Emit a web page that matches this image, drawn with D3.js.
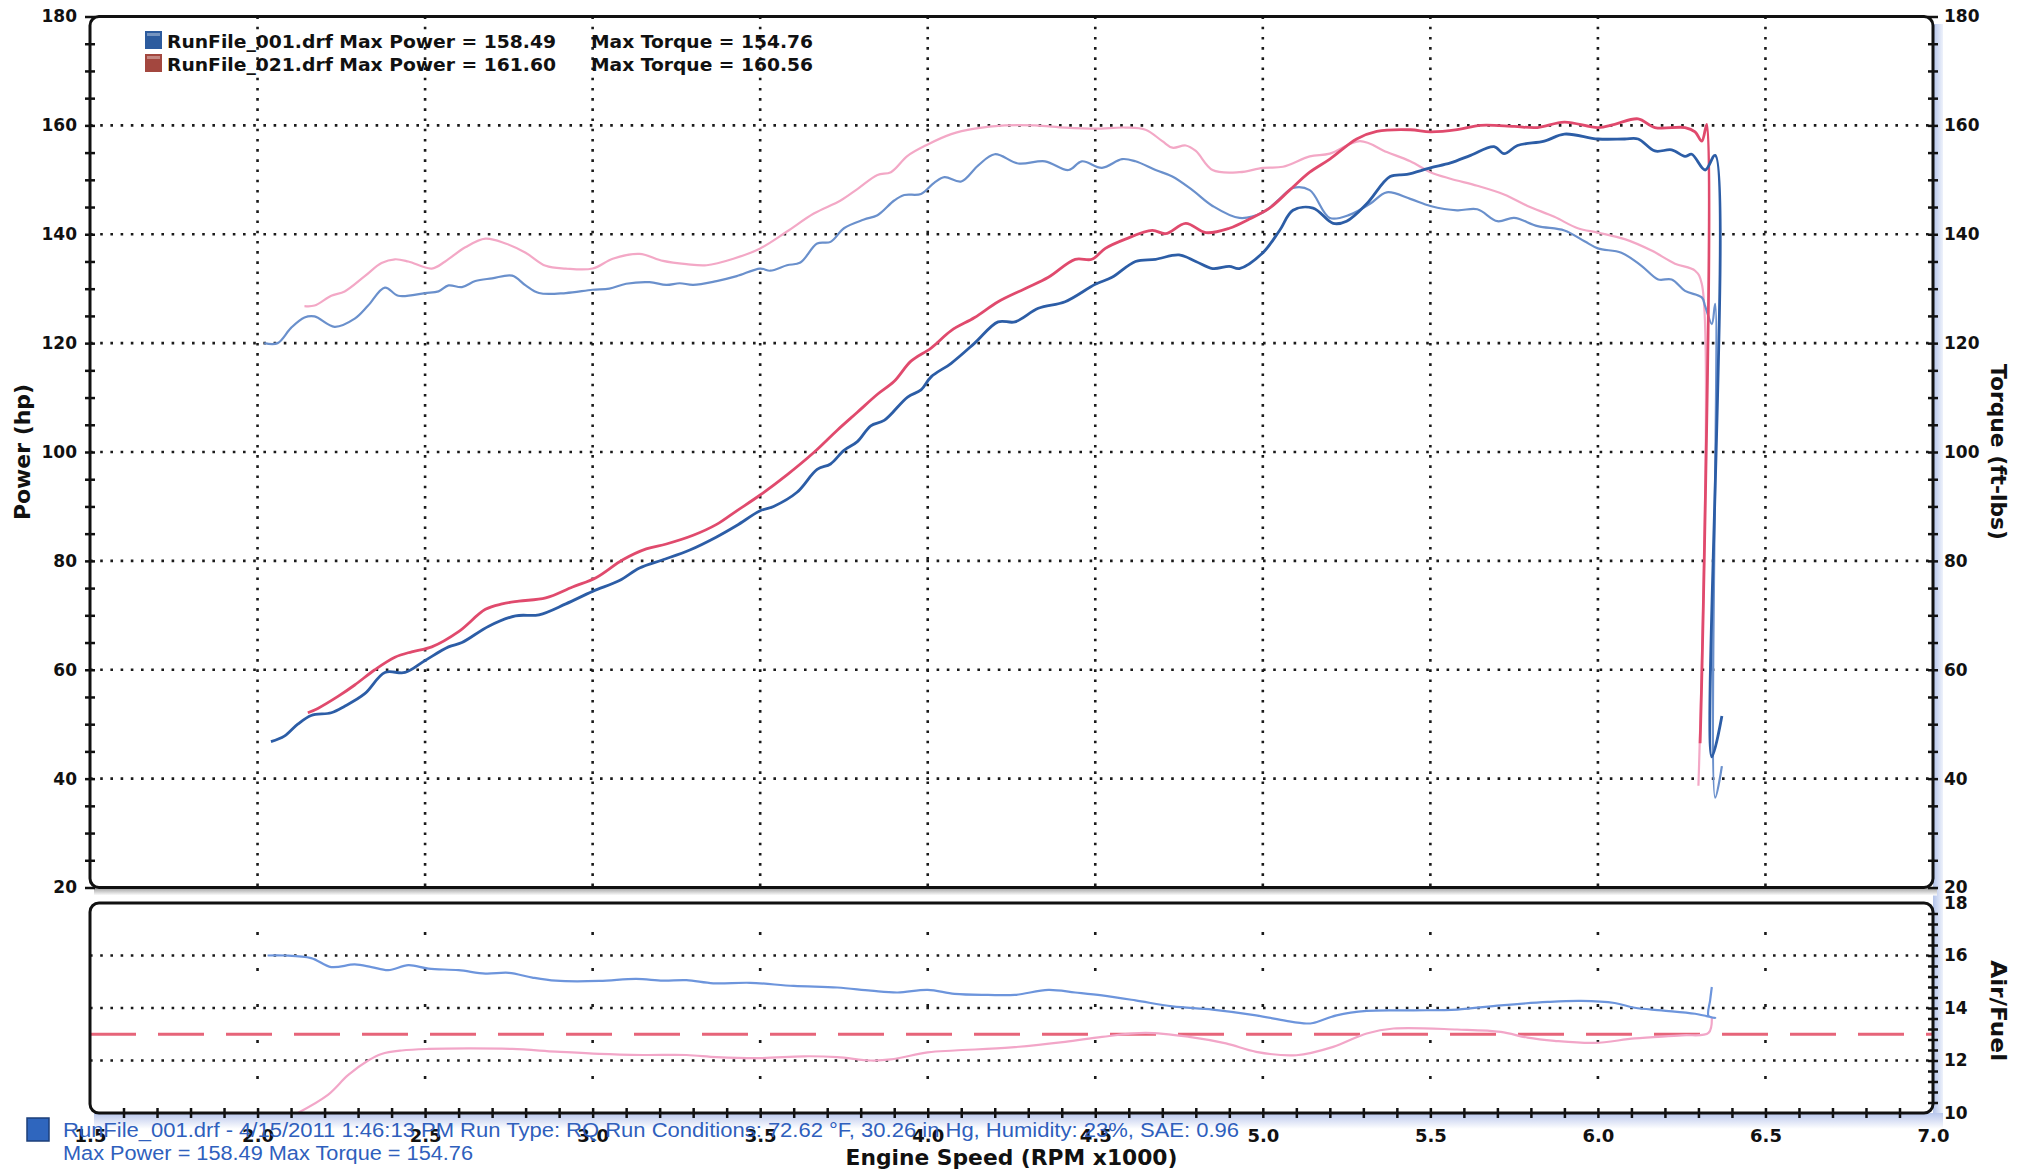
<!DOCTYPE html>
<html>
<head>
<meta charset="utf-8">
<script src="https://cdn.jsdelivr.net/npm/d3@7"></script>
<style>
  body { margin: 0; background: #fff; }
  svg { display: block; }
  .axis text { font-family: "DejaVu Sans", Verdana, sans-serif; font-weight: bold; font-size: 17px; fill: #111; }
  .axis .domain { display: none; }
  .axis line { stroke: #111; stroke-width: 2.5; }
  .title { font-family: "DejaVu Sans", Verdana, sans-serif; font-weight: bold; fill: #111; }
  .info { font-family: "Liberation Sans", Arial, sans-serif; font-size: 20px; fill: #2f5fbd; }
</style>
</head>
<body>
<svg id="chart" width="2028" height="1172"></svg>
<script>
// ---- data (rpm x1000, value) ----
const power001 = [
  [2.04,46.8],[2.08,47.8],[2.12,50.0],[2.16,51.6],[2.22,52.1],[2.26,53.3],[2.32,55.6],[2.38,59.5],[2.44,59.5],
  [2.50,61.7],[2.57,64.2],[2.61,65.0],[2.69,68.0],[2.77,69.9],[2.84,70.1],[2.92,72.1],[3.00,74.4],[3.08,76.4],
  [3.14,78.7],[3.21,80.2],[3.29,82.0],[3.37,84.4],[3.43,86.5],[3.50,89.2],[3.54,90.0],[3.61,92.6],[3.67,96.8],
  [3.71,97.8],[3.75,100.3],[3.79,101.9],[3.83,104.8],[3.87,105.8],[3.94,110.1],[3.98,111.4],[4.01,113.8],
  [4.07,116.3],[4.14,120.0],[4.21,123.9],[4.26,123.9],[4.33,126.4],[4.41,127.6],[4.50,130.8],[4.55,132.1],
  [4.62,135.0],[4.68,135.4],[4.75,136.2],[4.80,135.0],[4.85,133.7],[4.90,134.1],[4.93,133.7],[5.00,136.6],
  [5.05,140.7],[5.09,144.4],[5.15,144.8],[5.21,142.0],[5.25,142.4],[5.31,145.6],[5.38,150.6],[5.43,151.0],
  [5.50,152.2],[5.56,153.1],[5.62,154.5],[5.69,156.1],[5.72,154.8],[5.76,156.3],[5.84,157.1],[5.90,158.4],
  [6.00,157.5],[6.08,157.5],[6.12,157.5],[6.17,155.3],[6.22,155.5],[6.26,154.3],[6.28,154.7],[6.32,151.8],
  [6.35,154.5],[6.34,44.0],[6.37,51.5]
];
const torque001 = [
  [2.02,120.0],[2.06,120.0],[2.10,122.8],[2.14,124.7],[2.17,124.9],[2.23,123.0],[2.29,124.5],[2.33,126.9],
  [2.38,130.2],[2.42,128.7],[2.50,129.2],[2.54,129.5],[2.57,130.6],[2.61,130.3],[2.65,131.4],[2.70,131.9],
  [2.76,132.4],[2.80,130.6],[2.84,129.2],[2.92,129.2],[3.00,129.8],[3.05,130.0],[3.10,130.9],[3.17,131.2],
  [3.22,130.7],[3.26,131.0],[3.30,130.7],[3.37,131.4],[3.43,132.3],[3.50,133.7],[3.53,133.3],[3.58,134.3],
  [3.62,134.8],[3.67,138.3],[3.71,138.6],[3.75,141.1],[3.81,142.7],[3.85,143.5],[3.90,146.2],[3.93,147.2],
  [3.98,147.4],[4.02,149.5],[4.05,150.5],[4.10,149.7],[4.15,152.6],[4.20,154.7],[4.27,153.0],[4.35,153.4],
  [4.42,151.8],[4.46,153.4],[4.52,152.2],[4.58,153.8],[4.62,153.4],[4.68,151.8],[4.73,150.6],[4.79,148.1],
  [4.85,145.2],[4.93,143.0],[5.00,144.0],[5.05,146.5],[5.09,148.5],[5.14,148.1],[5.20,143.0],[5.26,143.6],
  [5.32,145.6],[5.37,147.7],[5.44,146.5],[5.50,145.2],[5.58,144.4],[5.64,144.6],[5.70,142.4],[5.75,143.0],
  [5.82,141.5],[5.90,140.7],[5.96,138.7],[6.00,137.4],[6.07,136.6],[6.13,134.2],[6.18,131.7],[6.22,131.7],
  [6.26,129.6],[6.31,128.4],[6.32,126.8],[6.34,123.5],[6.35,127.2],[6.35,36.5],[6.37,42.3]
];
const power021 = [
  [2.15,52.1],[2.18,52.9],[2.24,55.1],[2.29,57.2],[2.35,60.0],[2.41,62.3],[2.46,63.3],[2.52,64.2],[2.60,67.0],
  [2.68,71.1],[2.73,72.1],[2.78,72.6],[2.86,73.2],[2.94,75.2],[3.01,76.9],[3.09,80.2],[3.16,82.2],[3.22,83.1],
  [3.30,84.7],[3.37,86.7],[3.43,89.2],[3.50,92.1],[3.58,95.8],[3.66,99.9],[3.73,104.0],[3.79,107.3],
  [3.85,110.6],[3.90,113.0],[3.95,116.7],[4.01,119.1],[4.07,122.3],[4.14,124.7],[4.21,127.6],[4.29,130.0],
  [4.36,132.1],[4.44,135.4],[4.49,135.4],[4.53,137.4],[4.59,139.1],[4.67,140.7],[4.71,140.1],[4.77,142.0],
  [4.83,140.3],[4.90,141.1],[4.96,142.8],[5.02,144.8],[5.08,148.1],[5.14,151.4],[5.20,153.8],[5.28,157.5],
  [5.34,158.9],[5.44,159.2],[5.50,158.8],[5.58,159.2],[5.65,160.0],[5.75,159.8],[5.82,159.6],[5.90,160.6],
  [6.00,159.6],[6.05,160.2],[6.12,161.2],[6.17,159.6],[6.26,159.6],[6.29,158.8],[6.31,157.1],[6.325,160.2],
  [6.305,46.5]
];
const torque021 = [
  [2.14,126.8],[2.17,126.9],[2.22,128.7],[2.26,129.5],[2.32,132.3],[2.37,134.7],[2.41,135.4],[2.45,135.0],
  [2.52,133.7],[2.56,135.0],[2.62,137.6],[2.68,139.2],[2.74,138.3],[2.80,136.6],[2.86,134.2],[2.92,133.7],
  [3.00,133.7],[3.06,135.5],[3.14,136.4],[3.21,135.1],[3.28,134.5],[3.34,134.3],[3.42,135.5],[3.50,137.4],
  [3.58,140.5],[3.66,143.8],[3.74,146.2],[3.79,148.3],[3.85,150.9],[3.89,151.4],[3.94,154.4],[4.00,156.5],
  [4.07,158.4],[4.14,159.4],[4.23,160.0],[4.32,160.0],[4.41,159.6],[4.50,159.4],[4.59,159.6],[4.65,159.2],
  [4.70,157.1],[4.73,155.9],[4.77,156.3],[4.80,155.3],[4.85,151.8],[4.93,151.4],[5.00,152.2],[5.06,152.4],
  [5.14,154.3],[5.20,154.8],[5.29,157.1],[5.37,155.1],[5.44,153.4],[5.50,151.4],[5.56,150.2],[5.64,148.9],
  [5.72,147.3],[5.79,145.2],[5.87,143.2],[5.94,141.1],[6.00,140.3],[6.08,139.1],[6.16,137.0],[6.23,134.6],
  [6.29,133.3],[6.31,130.9],[6.30,38.7]
];
const afr001 = [
  [2.03,16.0],[2.08,16.0],[2.16,15.9],[2.22,15.56],[2.29,15.66],[2.34,15.56],[2.39,15.44],[2.45,15.63],
  [2.51,15.5],[2.60,15.44],[2.68,15.31],[2.75,15.34],[2.82,15.16],[2.89,15.04],[3.02,15.03],[3.13,15.11],
  [3.21,15.04],[3.28,15.06],[3.36,14.94],[3.47,14.96],[3.60,14.84],[3.73,14.78],[3.83,14.66],[3.91,14.59],
  [4.00,14.69],[4.08,14.54],[4.18,14.5],[4.26,14.5],[4.36,14.69],[4.44,14.59],[4.52,14.48],[4.62,14.29],
  [4.73,14.06],[4.85,13.94],[4.98,13.72],[5.07,13.51],[5.13,13.41],[5.15,13.43],[5.22,13.72],[5.31,13.89],
  [5.45,13.91],[5.58,13.94],[5.71,14.1],[5.85,14.23],[5.95,14.27],[6.05,14.19],[6.11,14.01],[6.19,13.91],
  [6.29,13.78],[6.35,13.62],[6.33,13.7],[6.335,14.3],[6.34,14.8]
];
const afr021 = [
  [2.12,10.0],[2.21,10.69],[2.27,11.44],[2.33,12.0],[2.37,12.25],[2.43,12.38],[2.51,12.44],[2.63,12.46],
  [2.76,12.44],[2.89,12.34],[3.02,12.25],[3.15,12.21],[3.28,12.21],[3.37,12.13],[3.50,12.09],[3.63,12.16],
  [3.73,12.13],[3.83,12.0],[3.89,12.04],[4.00,12.31],[4.08,12.38],[4.25,12.5],[4.41,12.71],[4.52,12.9],
  [4.65,13.05],[4.78,12.9],[4.89,12.65],[4.98,12.33],[5.10,12.2],[5.21,12.52],[5.31,13.03],[5.39,13.22],
  [5.58,13.18],[5.71,13.09],[5.79,12.87],[5.87,12.75],[5.99,12.67],[6.11,12.84],[6.25,12.96],[6.33,13.05],
  [6.34,13.66]
];
const afrTarget = 13.0;

const rpmTicks = [1.5, 2.0, 2.5, 3.0, 3.5, 4.0, 4.5, 5.0, 5.5, 6.0, 6.5, 7.0];
const rpmGrid = [2.0, 2.5, 3.0, 3.5, 4.0, 4.5, 5.0, 5.5, 6.0, 6.5];
const powerTicks = [20, 40, 60, 80, 100, 120, 140, 160, 180];
const powerGrid = [40, 60, 80, 100, 120, 140, 160];
const afrTicks = [10, 12, 14, 16, 18];
const afrGrid = [12, 14, 16];

const legendRows = [
  { name: 'RunFile_001.drf', power: '158.49', torque: '154.76', color: '#2c5b9e' },
  { name: 'RunFile_021.drf', power: '161.60', torque: '160.56', color: '#a3473f' }
];
const infoLines = [
  'RunFile_001.drf - 4/15/2011 1:46:13 PM  Run Type: RQ  Run Conditions: 72.62 °F, 30.26 in Hg,  Humidity: 23%, SAE: 0.96',
  'Max Power = 158.49  Max Torque = 154.76'
];

// ---- layout ----
const L = 90, R = 1933;
const x = d3.scaleLinear().domain([1.5, 7.0]).range([L, R]);
const yPow = d3.scaleLinear().domain([20, 180]).range([887.5, 16.5]);
const yTrq = yPow.copy();
const yAf = d3.scaleLinear().domain([10, 18]).range([1113, 903]);

const svg = d3.select('#chart');
const defs = svg.append('defs');

const gRight = defs.append('linearGradient').attr('id', 'shadeR').attr('x1', 0).attr('x2', 1).attr('y1', 0).attr('y2', 0);
gRight.append('stop').attr('offset', '0%').attr('stop-color', '#b3c3ea');
gRight.append('stop').attr('offset', '100%').attr('stop-color', '#eef2fb');
const gBot = defs.append('linearGradient').attr('id', 'shadeB').attr('x1', 0).attr('x2', 0).attr('y1', 0).attr('y2', 1);
gBot.append('stop').attr('offset', '0%').attr('stop-color', '#b8c6ec');
gBot.append('stop').attr('offset', '100%').attr('stop-color', '#ffffff');
const gGray = defs.append('linearGradient').attr('id', 'shadeG').attr('x1', 0).attr('x2', 0).attr('y1', 0).attr('y2', 1);
gGray.append('stop').attr('offset', '0%').attr('stop-color', '#9a9a9a');
gGray.append('stop').attr('offset', '100%').attr('stop-color', '#ffffff');

// soft scan shading around the frames
svg.append('rect').attr('x', R).attr('y', 24).attr('width', 10).attr('height', 1100).attr('fill', 'url(#shadeR)');
svg.append('rect').attr('x', L + 4).attr('y', yAf(10)).attr('width', R - L + 6).attr('height', 16).attr('fill', 'url(#shadeB)');
svg.append('rect').attr('x', L + 4).attr('y', yPow(20)).attr('width', R - L).attr('height', 8).attr('fill', 'url(#shadeG)');

// ---- grid ----
const grid = svg.append('g').attr('stroke', '#1a1a1a').attr('stroke-width', 2.6).attr('stroke-dasharray', '2.6,7.6');
grid.selectAll('line.hp').data(powerGrid).join('line')
  .attr('x1', L).attr('x2', R).attr('y1', d => yPow(d)).attr('y2', d => yPow(d));
grid.selectAll('line.vp').data(rpmGrid).join('line').attr('class', 'vp')
  .attr('x1', d => x(d)).attr('x2', d => x(d)).attr('y1', yPow(180)).attr('y2', yPow(20));
grid.selectAll('line.ha').data(afrGrid).join('line').attr('class', 'ha')
  .attr('x1', L).attr('x2', R).attr('y1', d => yAf(d)).attr('y2', d => yAf(d));
const dotGap = yAf(11.3) - yAf(12.67);
svg.append('g').attr('stroke', '#1a1a1a').attr('stroke-width', 2.6)
  .attr('stroke-dasharray', `3,${dotGap - 3}`)
  .selectAll('line').data(rpmGrid).join('line')
  .attr('x1', d => x(d)).attr('x2', d => x(d)).attr('y1', yAf(11.3)).attr('y2', yAf(17.6));

// target AFR
svg.append('line')
  .attr('x1', L).attr('x2', R).attr('y1', yAf(afrTarget)).attr('y2', yAf(afrTarget))
  .attr('stroke', '#e66479').attr('stroke-width', 3.2).attr('stroke-dasharray', '46,22');

// ---- curves ----
const lineTop = d3.line().x(d => x(d[0])).y(d => yPow(d[1])).curve(d3.curveCatmullRom.alpha(0.5));
const lineAf = d3.line().x(d => x(d[0])).y(d => yAf(d[1])).curve(d3.curveCatmullRom.alpha(0.5));
const curves = [
  { data: torque021, gen: lineTop, color: '#f3a8c6', w: 2.2 },
  { data: torque001, gen: lineTop, color: '#6a90cc', w: 2.2 },
  { data: power021, gen: lineTop, color: '#e04a6d', w: 2.8 },
  { data: power001, gen: lineTop, color: '#2c5da6', w: 2.8 },
  { data: afr021, gen: lineAf, color: '#f2a6c8', w: 2.2 },
  { data: afr001, gen: lineAf, color: '#6d95dc', w: 2.2 }
];
svg.append('g').selectAll('path').data(curves).join('path')
  .attr('d', d => d.gen(d.data))
  .attr('fill', 'none')
  .attr('stroke', d => d.color)
  .attr('stroke-width', d => d.w)
  .attr('stroke-linejoin', 'round');

// ---- frames ----
svg.append('rect').attr('x', L).attr('y', yPow(180)).attr('width', R - L).attr('height', yPow(20) - yPow(180))
  .attr('rx', 9).attr('fill', 'none').attr('stroke', '#111').attr('stroke-width', 3);
svg.append('rect').attr('x', L).attr('y', yAf(18)).attr('width', R - L).attr('height', yAf(10) - yAf(18))
  .attr('rx', 9).attr('fill', 'none').attr('stroke', '#111').attr('stroke-width', 3);

// ---- axes ----
function crossTicks(sel, vertical) {
  sel.selectAll('.tick line').attr(vertical ? 'y1' : 'x1', -5).attr(vertical ? 'y2' : 'x2', 5);
}
svg.append('g').attr('class', 'axis').attr('transform', `translate(${L},0)`)
  .call(d3.axisLeft(yPow).tickValues(d3.range(20, 181, 5)).tickFormat('').tickSizeOuter(0))
  .call(crossTicks, false);
svg.append('g').attr('class', 'axis').attr('transform', `translate(${L},0)`)
  .call(d3.axisLeft(yPow).tickValues(powerTicks).tickSize(0).tickPadding(13))
  .call(g => g.selectAll('.tick line').remove());
svg.append('g').attr('class', 'axis').attr('transform', `translate(${R},0)`)
  .call(d3.axisRight(yTrq).tickValues(d3.range(20, 181, 5)).tickFormat('').tickSizeOuter(0))
  .call(crossTicks, false);
svg.append('g').attr('class', 'axis').attr('transform', `translate(${R},0)`)
  .call(d3.axisRight(yTrq).tickValues(powerTicks).tickSize(0).tickPadding(11))
  .call(g => g.selectAll('.tick line').remove());
svg.append('g').attr('class', 'axis').attr('transform', `translate(${R},0)`)
  .call(d3.axisRight(yAf).tickValues(d3.range(10.4, 17.9, 0.4)).tickFormat('').tickSizeOuter(0))
  .call(crossTicks, false);
svg.append('g').attr('class', 'axis').attr('transform', `translate(${R},0)`)
  .call(d3.axisRight(yAf).tickValues(afrTicks).tickSize(0).tickPadding(11))
  .call(g => g.selectAll('.tick line').remove());
svg.append('g').attr('class', 'axis').attr('transform', `translate(0,${yAf(10)})`)
  .call(d3.axisBottom(x).tickValues(d3.range(16, 70).map(d => d / 10)).tickFormat('').tickSizeOuter(0))
  .call(crossTicks, true);
svg.append('g').attr('class', 'axis').attr('transform', `translate(0,${yAf(10)})`)
  .call(d3.axisBottom(x).tickValues(rpmTicks).tickFormat(d3.format('.1f')).tickSize(0).tickPadding(16))
  .call(g => g.selectAll('.tick line').remove())
  .call(g => g.selectAll('text').style('font-size', '18px'));

// axis titles
svg.append('text').attr('class', 'title').attr('font-size', 21)
  .attr('transform', `translate(30,${yPow(100)}) rotate(-90)`)
  .attr('text-anchor', 'middle').attr('textLength', 136).attr('lengthAdjust', 'spacingAndGlyphs')
  .text('Power (hp)');
svg.append('text').attr('class', 'title').attr('font-size', 21)
  .attr('transform', `translate(1991,${yTrq(100)}) rotate(90)`)
  .attr('text-anchor', 'middle').attr('textLength', 176).attr('lengthAdjust', 'spacingAndGlyphs')
  .text('Torque (ft-lbs)');
svg.append('text').attr('class', 'title').attr('font-size', 21)
  .attr('transform', `translate(1991,${yAf(13.9)}) rotate(90)`)
  .attr('text-anchor', 'middle').attr('textLength', 101).attr('lengthAdjust', 'spacingAndGlyphs')
  .text('Air/Fuel');
svg.append('text').attr('class', 'title').attr('font-size', 21)
  .attr('x', x(4.25)).attr('y', 1165).attr('text-anchor', 'middle')
  .attr('textLength', 332).attr('lengthAdjust', 'spacingAndGlyphs')
  .text('Engine Speed (RPM x1000)');

// ---- legend ----
const leg = svg.append('g').selectAll('g').data(legendRows).join('g')
  .attr('transform', (d, i) => `translate(145,${31 + i * 23})`);
leg.append('rect').attr('width', 17).attr('height', 18).attr('fill', d => d.color);
leg.append('rect').attr('x', 2).attr('y', 2).attr('width', 13).attr('height', 3).attr('fill', '#fff').attr('opacity', 0.35);
leg.append('text').attr('class', 'title').attr('font-size', 18.5)
  .attr('x', 22).attr('y', 17).attr('textLength', 389).attr('lengthAdjust', 'spacingAndGlyphs')
  .text(d => `${d.name} Max Power = ${d.power}`);
leg.append('text').attr('class', 'title').attr('font-size', 18.5)
  .attr('x', 446).attr('y', 17).attr('textLength', 222).attr('lengthAdjust', 'spacingAndGlyphs')
  .text(d => `Max Torque = ${d.torque}`);

// ---- run info footer ----
svg.append('rect').attr('x', 27).attr('y', 1118).attr('width', 22).attr('height', 23)
  .attr('fill', '#2f66be').attr('stroke', '#1d3f7a').attr('stroke-width', 1.5);
svg.append('g').selectAll('text').data(infoLines).join('text')
  .attr('class', 'info')
  .attr('x', 63).attr('y', (d, i) => 1137 + i * 23)
  .attr('textLength', (d, i) => i === 0 ? 1176 : 410).attr('lengthAdjust', 'spacingAndGlyphs')
  .text(d => d);
</script>
</body>
</html>
